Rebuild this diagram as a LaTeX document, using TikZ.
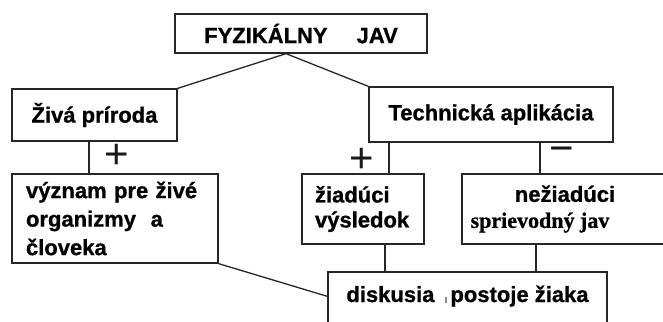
\documentclass[tikz,border=0pt]{standalone}
\usepackage{fontspec}
\setmainfont{Liberation Sans}[BoldFeatures={FakeBold=0.9}]
\newfontfamily\serifbold{Liberation Serif}[BoldFeatures={FakeBold=0.9}]
\begin{document}
\begin{tikzpicture}[x=1pt,y=-1pt,
  conn/.style={draw=black!85, line width=1.3pt},
  box/.style={draw=black!85, line width=1.3pt, rectangle, inner sep=0pt,
    font=\fontsize{22pt}{26pt}\selectfont\bfseries},
  sign/.style={font=\fontsize{42pt}{42pt}\selectfont, inner sep=0pt, text=black!90}]
\useasboundingbox (0,0) rectangle (663,321);
\fill[white] (0,0) rectangle (663,321);
\begin{scope}
\clip (0,0) rectangle (663,321);

% boxes
\node[box, minimum width=252pt, minimum height=39pt] (top) at (301,33.5)
  {FYZIKÁLNY\hspace{29pt}JAV};
\node[box, minimum width=165pt, minimum height=52pt] (ziva) at (94.5,115)
  {Živá príroda};
\node[box, minimum width=244pt, minimum height=55pt] (tech) at (491,114.5)
  {Technická aplikácia};
\node[box, minimum width=206pt, minimum height=89pt, align=left,
  text width=178pt, font=\fontsize{22pt}{28.5pt}\selectfont\bfseries] (vyznam) at (115,218.5)
  {význam pre živé\\organizmy\ \ a\\človeka};
\node[box, minimum width=122pt, minimum height=70pt, align=left,
  text width=96pt, font=\fontsize{22pt}{25pt}\selectfont\bfseries] (ziad) at (363,209)
  {žiadúci\\výsledok};
\node[box, minimum width=206pt, minimum height=70pt, align=center,
  font=\fontsize{22pt}{27pt}\selectfont\bfseries] (neziad) at (565,209)
  {nežiadúci\\[-1pt]{\serifbold\hspace*{-50pt}sprievodný jav}};
\node[box, minimum width=279pt, text height=30pt, text depth=40pt, anchor=base] (disk) at (467.5,302)
  {diskusia\hspace{11pt}{\color{black!45}\rule[-1pt]{1.5pt}{6pt}}\hspace{3.5pt}postoje žiaka};

% connectors
\coordinate (fork) at ([xshift=-15pt]top.south);
\draw[conn] (fork) -- (ziva.north east);
\draw[conn] (fork) -- (tech.north west);
\draw[conn] ([xshift=-5.5pt]ziva.south) -- ([xshift=-5.5pt]ziva.south |- vyznam.north);
\draw[conn] ([xshift=26pt]ziad.north) -- ([xshift=26pt]ziad.north |- tech.south);
\draw[conn] ([xshift=-25pt]neziad.north) -- ([xshift=-25pt]neziad.north |- tech.south);
\draw[conn] ([xshift=22pt]ziad.south) -- ([xshift=22pt]ziad.south |- disk.north);
\draw[conn] ([xshift=-29pt]neziad.south) -- ([xshift=-29pt]neziad.south |- disk.north);
\draw[conn] (vyznam.south east) -- ([yshift=-25pt]disk.north west);

% signs
\node[sign] (p1) at (117,156) {+};
\node[sign] (p2) at (362,160) {+};
\node[sign] (m1) at (562,155) {−};
\end{scope}
\end{tikzpicture}
\end{document}
